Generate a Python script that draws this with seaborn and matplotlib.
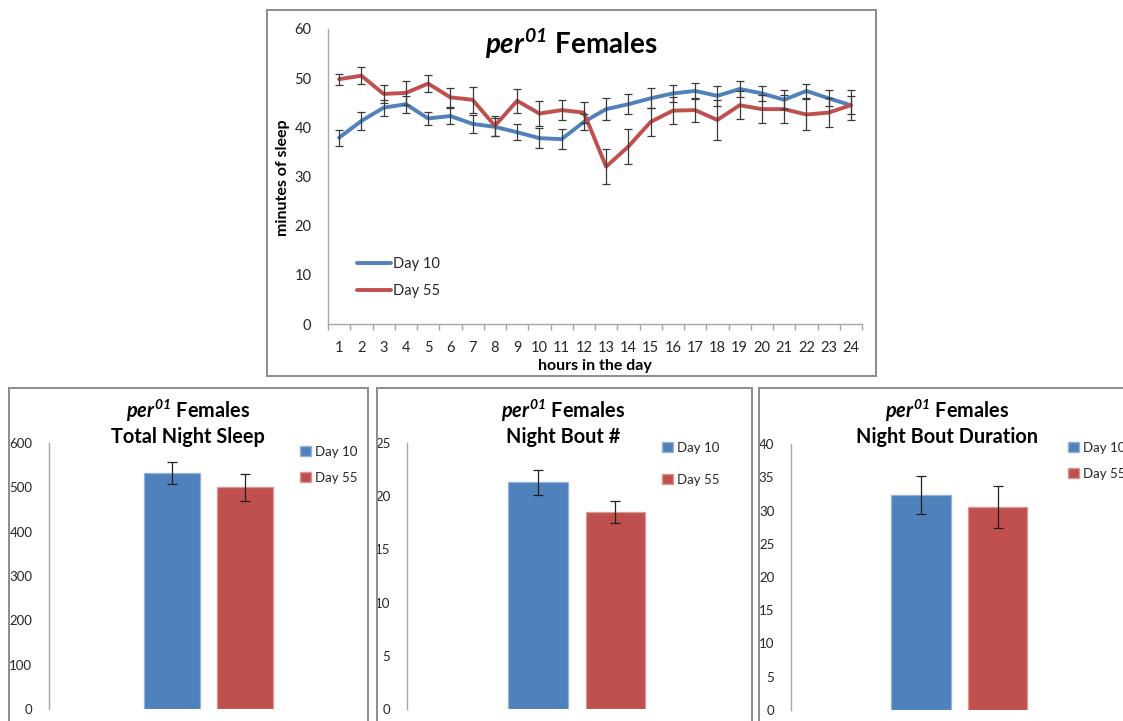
import numpy as np
import pandas as pd
import matplotlib
matplotlib.use("Agg")
import matplotlib.pyplot as plt
from matplotlib.patches import Rectangle, Patch
from matplotlib.lines import Line2D
import seaborn as sns

# ---- hourly sleep (minutes of sleep per hour) ----
hours = list(range(1, 25))
day10_sleep = [37.9, 41.3, 44.0, 44.7, 41.8, 42.3, 40.7, 40.1, 39.0, 37.8, 37.6, 41.1,
               43.7, 44.7, 45.9, 46.9, 47.4, 46.4, 47.8, 46.9, 45.6, 47.4, 45.9, 44.5]
day10_err = [1.6, 1.9, 1.6, 1.7, 1.4, 1.7, 1.9, 1.8, 1.6, 2.1, 2.0, 1.6,
             2.2, 2.0, 2.0, 1.7, 1.7, 2.0, 1.6, 1.6, 1.9, 1.5, 1.6, 1.8]
day55_sleep = [49.8, 50.5, 46.8, 47.0, 48.9, 46.1, 45.6, 40.3, 45.4, 42.8, 43.5, 43.0,
               32.0, 36.1, 41.1, 43.4, 43.5, 41.5, 44.5, 43.7, 43.7, 42.6, 43.0, 44.5]
day55_err = [1.1, 1.7, 1.9, 2.4, 1.7, 2.0, 2.7, 2.0, 2.4, 2.5, 2.1, 2.2,
             3.6, 3.6, 2.9, 2.7, 2.5, 4.0, 2.9, 2.8, 2.8, 3.2, 3.0, 3.1]

# ---- night summaries ----
groups = ["Day 10", "Day 55"]
night_sleep = [532, 500]
night_sleep_err = [25, 31]
bout_count = [21.3, 18.5]
bout_count_err = [1.2, 1.05]
bout_duration = [32.3, 30.5]
bout_duration_err = [2.85, 3.15]

COLORS = {"Day 10": "#4F81BD", "Day 55": "#C0504D"}
EDGES = {"Day 10": "#95B3D7", "Day 55": "#D99694"}
AXIS_GRAY = "#A6A6A6"
FRAME_GRAY = "#8C8C8C"
TEXT = "#262626"
TITLE = r"$\mathit{per}^{\mathit{01}}$ Females"

sns.set_theme(style="white")
plt.rcParams["font.family"] = ["Lato", "DejaVu Sans"]
plt.rcParams.update({
    "mathtext.fontset": "custom",
    "mathtext.it": "Lato:italic:bold",
    "mathtext.rm": "Lato:italic:bold",
    "mathtext.bf": "Lato:italic:bold",
})

W, H = 1123, 721
fig = plt.figure(figsize=(W / 100, H / 100), dpi=100)


def box(x0, y0, x1, y1):
    return [x0 / W, 1 - y1 / H, (x1 - x0) / W, (y1 - y0) / H]


def fx(x):
    return x / W


def fy(y):
    return 1 - y / H


def frame(x0, y0, x1, y1):
    fig.patches.append(Rectangle((x0 / W, 1 - y1 / H), (x1 - x0) / W, (y1 - y0) / H,
                                 transform=fig.transFigure, fill=False,
                                 edgecolor=FRAME_GRAY, linewidth=1.4))


def style_left_axis(ax):
    for s in ("top", "right"):
        ax.spines[s].set_visible(False)
    ax.spines["left"].set_color(AXIS_GRAY)
    ax.spines["left"].set_linewidth(1.0)
    ax.tick_params(axis="y", direction="out", length=4, width=1.0, color=AXIS_GRAY,
                   labelcolor=TEXT, pad=5)


# ---- chart frames ----
frame(267, 10, 876, 376)
frame(9, 388, 368, 730)
frame(377, 388, 752, 730)
frame(759, 388, 1130, 730)

# ---- hourly sleep profile ----
ax = fig.add_axes(box(328, 29, 862, 324))
line_df = pd.DataFrame({
    "hour": hours * 2,
    "sleep": day10_sleep + day55_sleep,
    "group": ["Day 10"] * 24 + ["Day 55"] * 24,
})
sns.lineplot(data=line_df, x="hour", y="sleep", hue="group", palette=COLORS,
             linewidth=2.8, ax=ax, legend=False, zorder=3)
for mean, err in ((day10_sleep, day10_err), (day55_sleep, day55_err)):
    ax.errorbar(hours, mean, yerr=err, fmt="none", ecolor="#3A3A3A", elinewidth=0.9,
                capsize=3, capthick=0.9, zorder=4)
ax.set_xlim(0.5, 24.5)
ax.set_ylim(0, 60)
ax.set_yticks(range(0, 61, 10))
ax.set_xticks(hours)
ax.set_xticks(np.arange(0.5, 25, 1), minor=True)
ax.set_xlabel("")
ax.set_ylabel("")
style_left_axis(ax)
ax.spines["bottom"].set_color(AXIS_GRAY)
ax.spines["bottom"].set_linewidth(1.0)
ax.tick_params(axis="x", which="major", length=0, pad=12, labelcolor=TEXT)
ax.tick_params(axis="x", which="minor", direction="out", length=4, width=1.0,
               color=AXIS_GRAY, bottom=True)
ax.tick_params(labelsize=10.5)
ax.tick_params(axis="y", pad=8)

fig.text(fx(571), fy(44), TITLE, fontsize=20, fontweight="bold", ha="center", va="center",
         color="black")
fig.text(fx(283), fy(178), "minutes of sleep", fontsize=11.5, fontweight="bold",
         rotation=90, ha="center", va="center", color="black")
fig.text(fx(595), fy(366), "hours in the day", fontsize=11.5, fontweight="bold",
         ha="center", va="center", color="black")

line_handles = [Line2D([], [], color=COLORS[g], linewidth=2.8) for g in groups]
ax.legend(line_handles, groups, loc="upper left", bbox_to_anchor=(fx(357), fy(257)),
          bbox_transform=fig.transFigure, frameon=False, fontsize=10.5, handlelength=2.3,
          handletextpad=0.2, labelspacing=0.9, borderpad=0, borderaxespad=0,
          labelcolor=TEXT)


# ---- night summary bars ----
def bar_panel(rect_px, values, errs, ymax, step, subtitle, title_x, legend_xy, spacing):
    bx = fig.add_axes(box(*rect_px))
    df = pd.DataFrame({"group": groups, "value": values})
    sns.barplot(data=df, x="group", y="value", hue="group", palette=COLORS, width=0.77,
                ax=bx, legend=False, linewidth=0.9, saturation=1)
    for patch, g in zip(bx.patches, groups):
        patch.set_edgecolor(EDGES[g])
    bx.errorbar([0, 1], values, yerr=errs, fmt="none", ecolor="#202020", elinewidth=0.9,
                capsize=3.5, capthick=0.9, zorder=4)
    bx.set_xlim(-1.69, 1.60)
    bx.set_ylim(0, ymax)
    bx.set_yticks(np.arange(0, ymax + step / 2, step))
    bx.set_xticks([])
    bx.set_xlabel("")
    bx.set_ylabel("")
    style_left_axis(bx)
    bx.spines["bottom"].set_visible(False)
    bx.tick_params(axis="y", labelsize=9.5, pad=8)

    fig.text(fx(title_x), fy(411), TITLE, fontsize=14.3, fontweight="bold", ha="center",
             va="center", color="black")
    fig.text(fx(title_x), fy(437), subtitle, fontsize=14.3, fontweight="bold", ha="center",
             va="center", color="black")

    handles = [Patch(facecolor=COLORS[g], edgecolor=EDGES[g]) for g in groups]
    bx.legend(handles, groups, loc="upper left", bbox_to_anchor=(fx(legend_xy[0]), fy(legend_xy[1])),
              bbox_transform=fig.transFigure, frameon=False, fontsize=9.5, handlelength=0.8,
              handleheight=0.8, handletextpad=0.3, labelspacing=spacing, borderpad=0,
              borderaxespad=0, labelcolor=TEXT)
    return bx


bar_panel((49, 443, 289, 709), night_sleep, night_sleep_err, 600, 100,
          "Total Night Sleep", 188, (300, 446), 1.05)
bar_panel((407, 443, 662, 709), bout_count, bout_count_err, 25, 5,
          "Night Bout #", 563, (662, 442), 1.5)
bar_panel((791, 444, 1044, 710), bout_duration, bout_duration_err, 40, 5,
          "Night Bout Duration", 947, (1068, 442), 1.05)

fig.savefig("out.png", dpi=100)
